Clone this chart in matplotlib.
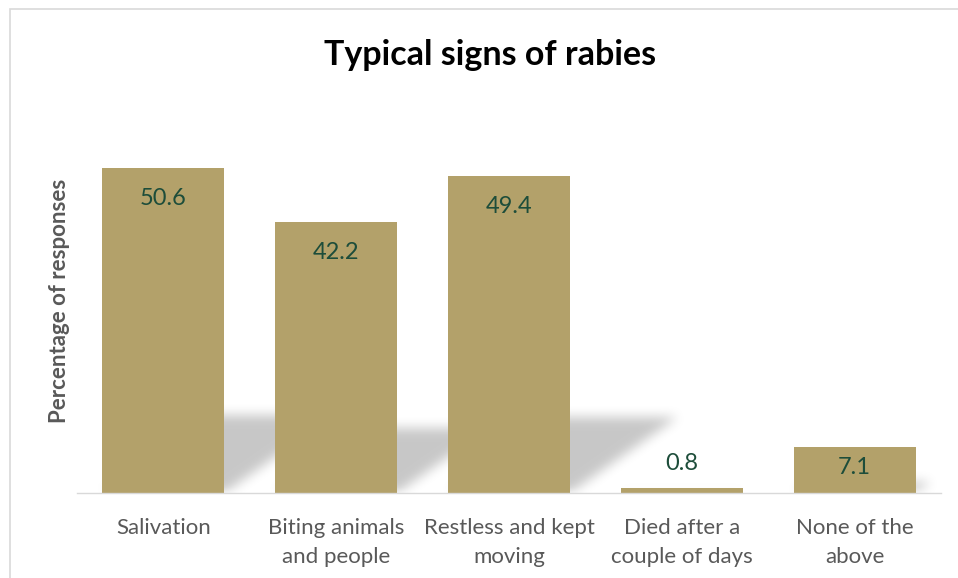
import numpy as np
import matplotlib
matplotlib.use("Agg")
import matplotlib.pyplot as plt
from matplotlib.path import Path
from matplotlib.patches import Rectangle

categories = ["Salivation", "Biting animals\nand people", "Restless and kept\nmoving",
              "Died after a\ncouple of days", "None of the\nabove"]
values = [50.6, 42.2, 49.4, 0.8, 7.1]
labels = ["50.6", "42.2", "49.4", "0.8", "7.1"]

title = "Typical signs of rabies"
ylabel = "Percentage of responses"

BAR = "#B3A16A"
LBL = "#1D4D3A"
TICK = "#595959"
FONT = ["Lato", "DejaVu Sans"]
plt.rcParams["font.family"] = FONT

W, H, DPI = 958, 578, 100
fig = plt.figure(figsize=(W / DPI, H / DPI), dpi=DPI)
fig.patch.set_facecolor("white")

# chart border
fig.add_artist(Rectangle((10 / W, -0.01), 1.05, 1 - 9 / H + 0.01, transform=fig.transFigure,
                         fill=False, edgecolor="#D9D9D9", linewidth=1.2))

ax_l, ax_r, ax_b, ax_t = 77 / W, 941 / W, 1 - 493 / H, 1 - 108 / H
ax = fig.add_axes([ax_l, ax_b, ax_r - ax_l, ax_t - ax_b])
YMAX = 60
x = np.arange(len(values))
ax.set_xlim(-0.5, len(values) - 0.5)
ax.set_ylim(0, YMAX)

bw = 0.705

# --- perspective shadows (blurred) ---
ax_w_px = (ax_r - ax_l) * W
ax_h_px = (ax_t - ax_b) * H
ppx = ax_w_px / len(values)   # px per x unit
ppy = ax_h_px / YMAX          # px per y unit
nx, ny = int(round(ax_w_px)), int(round(ax_h_px))
gx = (np.arange(nx) + 0.5) / ppx - 0.5
gy = (np.arange(ny) + 0.5) / ppy
GX, GY = np.meshgrid(gx, gy)
pts = np.column_stack([GX.ravel(), GY.ravel()])
mask = np.zeros(GX.size)
k = 0.24
for xi, v in zip(x, values):
    hk = v * k
    d = hk * ppy * 1.42 / ppx
    poly = [(xi - bw / 2, 0), (xi + bw / 2, 0), (xi + bw / 2 + d, hk), (xi - bw / 2 + d, hk)]
    mask = np.maximum(mask, Path(poly).contains_points(pts).astype(float))
mask = mask.reshape(ny, nx)


def box_blur(a, r, axis):
    pad = [(0, 0), (0, 0)]
    pad[axis] = (r, r)
    ap = np.pad(a, pad, mode="constant")
    c = np.cumsum(ap, axis=axis)
    c = np.insert(c, 0, 0, axis=axis)
    n = a.shape[axis]
    if axis == 0:
        return (c[2 * r + 1:2 * r + 1 + n] - c[:n]) / (2 * r + 1)
    return (c[:, 2 * r + 1:2 * r + 1 + n] - c[:, :n]) / (2 * r + 1)


for _ in range(3):
    mask = box_blur(mask, 5, 0)
    mask = box_blur(mask, 5, 1)
rgba = np.zeros((ny, nx, 4))
rgba[..., :3] = 0.0
rgba[..., 3] = mask * 0.22
ax.imshow(rgba, extent=(-0.5, len(values) - 0.5, 0, YMAX), origin="lower",
          aspect="auto", zorder=1, interpolation="bilinear")
ax.set_xlim(-0.5, len(values) - 0.5)
ax.set_ylim(0, YMAX)

ax.bar(x, values, width=bw, color=BAR, zorder=2, linewidth=0)

# value labels
FS_V = 17
for xi, v, t in zip(x, values, labels):
    hpx = v * ppy
    if hpx > 70:
        ax.text(xi, v - 30 / ppy, t, ha="center", va="center", fontsize=FS_V, color=LBL, zorder=3)
    elif hpx > 28:
        ax.text(xi, v / 2 + 3 / ppy, t, ha="center", va="center", fontsize=FS_V, color=LBL, zorder=3)
    else:
        ax.text(xi, v + 24 / ppy, t, ha="center", va="center", fontsize=FS_V, color=LBL, zorder=3)

for s in ["top", "right", "left"]:
    ax.spines[s].set_visible(False)
ax.spines["bottom"].set_color("#D9D9D9")
ax.spines["bottom"].set_linewidth(1)
ax.set_yticks([])
ax.set_xticks(x)
ax.set_xticklabels(categories, fontsize=16, color=TICK, linespacing=1.55)
ax.tick_params(axis="x", length=0, pad=18)

fig.text(60 / W, 1 - 301 / H, ylabel, rotation=90, ha="center", va="center",
         fontsize=16, fontweight="bold", color="#595959")
fig.text(490 / W, 1 - 55 / H, title, ha="center", va="center", fontsize=24.5,
         fontweight="bold", color="black")

fig.savefig("out.png", dpi=DPI, facecolor="white")
